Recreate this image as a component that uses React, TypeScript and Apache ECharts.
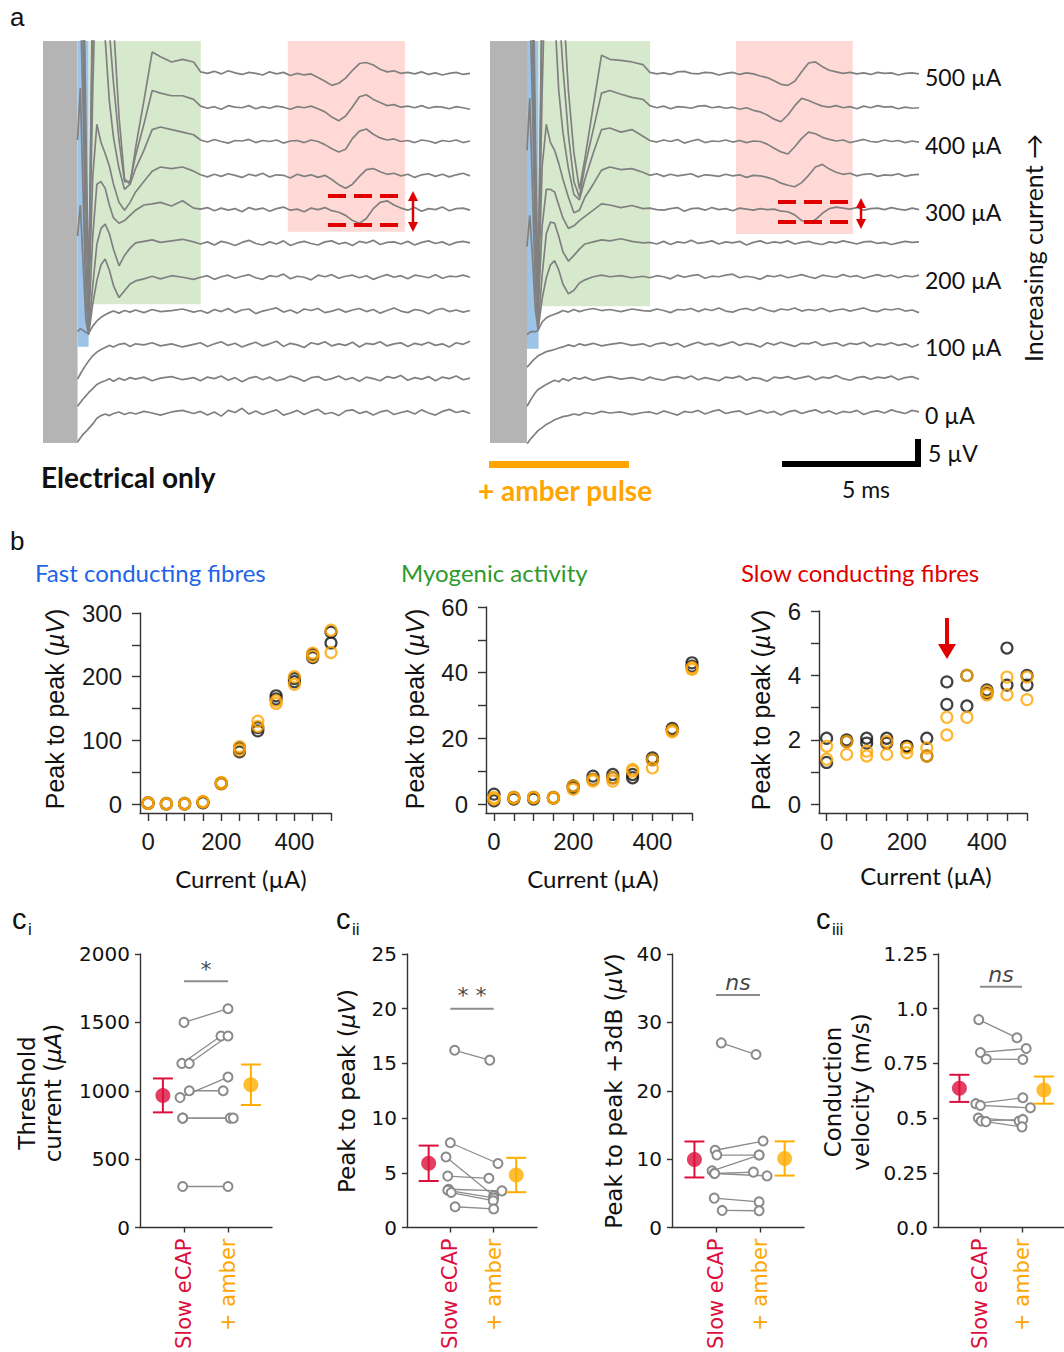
import React, { useEffect, useRef } from "react";
import * as echarts from "echarts";

// ---------------- Panel a : evoked traces (µV, relative to each trace's baseline) ----------------
const TIME_EARLY_MS = [0, 0.1, 0.2, 0.3, 0.4, 0.55, 0.7, 0.85, 1.0, 1.15, 1.3, 1.5, 1.7, 1.9, 2.1, 2.4, 2.7, 3.0, 3.4, 3.8, 4.2];
const TIME_LATE_MS = [4.45, 4.7, 4.95, 5.2, 5.45, 5.7, 5.95, 6.2, 6.45, 6.7,
  6.95, 7.2, 7.45, 7.7, 7.95, 8.2, 8.45, 8.7, 8.95, 9.2,
  9.45, 9.7, 9.95, 10.2, 10.45, 10.7, 10.95, 11.2, 11.45, 11.7,
  11.95, 12.2, 12.45, 12.7, 12.95, 13.2, 13.45, 13.7, 13.95, 14.2];

// Electrical only — early part (stimulus artefact, fast fibres, myogenic)
const L000_E = [-5.6, -4.8, -4.1, -3.6, -3.0, -2.1, -1.0, -0.5, -0.2, -0.5, -0.1, 0.2, -0.3, 0.1, -0.2, 0.3, 0.0, -0.4, 0.2, 0.5, -0.1];
const L050_E = [-5.2, -4.5, -3.8, -3.2, -2.6, -1.8, -1.0, -0.6, -0.3, 0.1, -0.4, 0.2, -0.2, 0.3, 0.0, 0.4, -0.3, 0.2, 0.5, -0.1, 0.3];
const L100_E = [-6.5, -5.5, -4.6, -3.8, -3.0, -2.0, -1.3, -0.8, -0.4, 0.0, -0.3, 0.2, 0.4, -0.2, 0.3, 0.1, 0.5, -0.1, 0.3, -0.3, 0.2];
const L150_E = [-3.8, -3.3, -3.6, -4.0, -4.2, -2.8, -1.8, -1.1, -0.6, -0.2, 0.1, -0.3, 0.2, -0.1, 0.3, -0.2, 0.4, 0.0, 0.2, 0.5, -0.1];
const L200_E = [8, 14, 3, -8, -11, -5, -0.5, 2.5, 3.6, 1.5, -1.5, -3.8, -2.5, -1.2, -0.6, -0.2, 0.3, -0.2, 0.4, 0.1, -0.3];
const L250_E = [20, 30, 10, -10, -17, -8, 0, 3, 3.8, 2.0, -1.0, -4.2, -2.2, -0.8, 0.2, 0.5, 0.8, 0.3, 0.6, 0.9, 0.4];
const L300_E = [40, 40, 20, -10, -22, -5, 5, 5.5, 4.2, 1.0, -1.5, -2.5, -2.0, -1.0, 0.0, 1.0, 1.2, 1.5, 0.8, 1.8, 0.4];
const L350_E = [40, 40, 30, 0, -25, 0, 10, 6.5, 4.4, 2.0, -1.5, -5.0, -6.5, -5.0, -3.0, -1.0, 1.0, 1.8, 1.5, 1.8, 1.0];
const L400_E = [40, 40, 20, -10, -30, 10, 40, 40, 20, 8, 1, -5, -9, -8, -5, -1.5, 2.5, 3.0, 2.5, 2.0, 1.5];
const L450_E = [40, 40, 25, -10, -35, 20, 40, 40, 30, 15, 5, -6, -14, -14, -9, -3, 3.5, 3.0, 2.5, 2.5, 1.8];
const L500_E = [45, 45, 30, -10, -45, 20, 45, 45, 40, 25, 10, -8, -20, -21, -14, -5, 4.4, 3.5, 2.5, 3.0, 2.5];
// Electrical only — late part (slow fibres)
const L000_L = [0.3, -0.4, 0.2, -0.6, 0.5, 0.1, 0.9, -0.2, 0.4, -0.3, 0.2, 0.6, -0.4, 0.0, 0.5, -0.3, 0.3, 0.7, -0.2, 0.1,
  -0.5, 0.4, 0.6, -0.1, 0.3, -0.4, 0.2, 0.5, -0.3, 0.1, 0.4, -0.2, 0.6, 0.0, -0.4, 0.3, 0.7, 0.1, 0.4, -0.1];
const L050_L = [-0.3, 0.4, 0.1, 0.6, -0.2, 0.3, -0.5, 0.2, 0.5, -0.1, 0.4, -0.3, 0.0, 0.6, 0.2, -0.4, 0.3, 0.5, -0.2, 0.1,
  0.6, -0.1, 0.3, -0.4, 0.4, 0.1, -0.3, 0.5, 0.2, 0.7, -0.2, 0.3, 0.0, 0.5, -0.3, 0.4, 0.1, 0.6, -0.1, 0.2];
const L100_L = [0.5, -0.2, 0.3, 0.7, 0.0, 0.4, -0.3, 0.2, 0.6, -0.1, 0.3, 0.8, -0.2, 0.4, 0.1, -0.4, 0.5, 0.2, 0.7, -0.1,
  0.3, 0.0, 0.6, -0.3, 0.4, 0.2, 0.7, -0.1, 0.3, 0.5, -0.2, 0.4, 0.1, 0.6, 0.0, 0.3, -0.3, 0.5, 0.2, 0.8];
const L150_L = [0.2, -0.3, 0.4, 0.0, 0.6, -0.2, 0.3, 0.5, -0.4, 0.1, 0.4, 0.7, -0.1, 0.3, -0.3, 0.5, 0.2, 0.6, -0.2, 0.1,
  0.5, -0.1, 0.3, 0.6, 0.0, 0.4, -0.3, 0.2, 0.7, 0.1, -0.2, 0.4, 0.2, -0.4, 0.3, 0.6, 0.0, 0.3, -0.1, 0.2];
const L200_L = [0.1, 0.4, -0.3, 0.2, 0.5, -0.1, 0.3, 0.6, 0.0, -0.3, 0.4, 0.2, 0.7, -0.2, 0.3, 0.1, -0.4, 0.5, 0.2, 0.6,
  -0.1, 0.3, 0.5, 0.0, 0.4, -0.3, 0.2, 0.6, 0.1, 0.4, -0.2, 0.5, 0.3, 0.0, 0.6, -0.1, 0.3, 0.2, 0.5, 0.1];
const L250_L = [0.0, 0.4, -0.2, 0.5, 0.2, -0.3, 0.3, 0.7, 0.1, -0.2, 0.4, 0.0, 0.6, -0.3, 0.2, 0.5, 0.1, -0.2, 0.4, 0.6,
  0.0, 0.3, -0.3, 0.5, 0.2, 0.7, -0.1, 0.3, 0.4, 0.0, 0.5, -0.2, 0.3, 0.6, 0.1, 0.4, -0.2, 0.3, 0.5, 0.2];
const L300_L = [0.2, 0.5, -0.1, 0.4, 0.0, 0.3, -0.3, 0.5, 0.1, 0.4, -0.2, 0.3, 0.6, 0.0, 0.2, -0.3, 0.4, 0.1, 0.5, -0.1,
  -0.4, -1.0, -2.0, -2.5, -1.6, 0.3, 1.5, 1.8, 1.0, 0.4, 0.0, 0.5, -0.2, 0.3, 0.1, 0.6, -0.1, 0.3, 0.4, 0.0];
const L350_L = [0.3, -0.1, 0.4, 0.0, 0.5, 0.2, -0.2, 0.4, 0.1, 0.6, -0.1, 0.3, 0.2, -0.3, 0.4, 0.0, 0.3, -0.2, 0.2, -0.6,
  -1.6, -2.3, -1.5, 0.0, 1.3, 1.5, 0.9, 0.4, 0.6, 0.1, 0.4, -0.2, 0.3, 0.5, 0.0, 0.4, -0.1, 0.3, 0.6, 0.1];
const L400_L = [0.5, 0.1, 0.6, 0.2, -0.1, 0.4, 0.3, 0.6, 0.0, 0.4, 0.2, 0.5, -0.1, 0.3, 0.4, 0.0, 0.5, 0.2, -0.4, -1.2,
  -1.8, -1.3, 0.8, 2.2, 2.6, 1.6, 0.9, 0.5, 0.7, 0.2, 0.4, 0.0, 0.5, 0.3, -0.1, 0.4, 0.2, 0.5, 0.0, 0.3];
const L450_L = [0.5, 0.1, 0.4, -0.1, 0.6, 0.3, 0.2, 0.6, 0.0, 0.4, 0.1, 0.5, 0.3, -0.1, 0.4, 0.2, 0.5, 0.0, -0.6, -1.6,
  -2.3, -1.4, 0.4, 2.3, 2.7, 1.8, 1.2, 0.6, 0.8, 0.3, 0.5, 0.2, 0.6, 0.1, 0.4, 0.3, 0.0, 0.4, 0.2, -0.1];
const L500_L = [0.6, 0.3, 0.7, 0.2, 0.8, 0.4, 0.1, 0.5, 0.3, 0.0, 0.6, 0.2, 0.5, -0.1, 0.3, 0.0, 0.2, -0.5, -1.2, -2.0,
  -1.6, -0.6, 0.9, 2.2, 2.4, 1.9, 1.1, 0.6, 0.8, 0.3, 0.5, 0.2, 0.6, 0.1, 0.4, 0.0, 0.3, 0.5, 0.1, 0.3];

// + amber pulse — early part
const R000_E = [-6.0, -5.2, -4.6, -4.0, -3.4, -2.8, -2.2, -1.8, -1.3, -1.0, -0.7, -0.5, -0.2, -0.4, 0.1, -0.2, 0.3, 0.0, 0.2, -0.3, 0.1];
const R050_E = [-5.2, -4.3, -3.4, -2.6, -2.0, -1.5, -1.0, -0.6, -0.2, -0.5, 0.1, -0.3, 0.3, 0.0, 0.4, -0.2, 0.2, 0.5, 0.0, 0.3, -0.2];
const R100_E = [-4.2, -3.6, -3.0, -2.5, -2.0, -1.6, -1.2, -1.0, -0.8, -0.5, -0.3, 0.1, -0.2, 0.3, 0.0, 0.4, -0.1, 0.2, 0.5, 0.0, 0.3];
const R150_E = [-4.4, -4.0, -3.8, -3.9, -3.6, -2.0, -1.2, -0.8, -0.5, -0.2, 0.2, -0.1, 0.4, 0.0, 0.3, 0.6, 0.2, 0.4, 0.0, 0.5, 0.2];
const R200_E = [6, 12, 4, -6, -10, -4, 0, 2.5, 3.3, 1.5, -1.2, -3.1, -2.4, -1.0, -0.4, 0.2, 0.5, 0.2, 0.4, 0.0, 0.3];
const R250_E = [18, 28, 10, -8, -16, -6, 2, 4.2, 4.0, 1.5, -1.5, -3.3, -2.2, -1.0, 0.0, 0.4, 0.8, 0.6, 1.0, 0.5, 0.2];
const R300_E = [40, 40, 20, -8, -20, -3, 4, 4.0, 3.5, 1.0, -1.5, -3.5, -3.0, -2.0, -1.2, 0.0, 1.2, 1.0, 0.5, 0.9, 0.3];
const R350_E = [40, 40, 30, 0, -24, 2, 10, 6.5, 5, 2.5, -0.5, -4, -7, -6.5, -4, -1.5, 1.2, 1.8, 1.3, 1.5, 0.8];
const R400_E = [40, 40, 20, -10, -30, 10, 40, 40, 25, 10, 2, -5, -10, -11, -7, -2, 2.5, 2.8, 2.0, 2.5, 1.2];
const R450_E = [40, 40, 25, -10, -35, 20, 40, 40, 35, 20, 8, -5, -14, -17, -11, -4, 3.0, 3.5, 2.8, 2.2, 1.8];
const R500_E = [45, 45, 30, -10, -45, 20, 45, 45, 45, 30, 15, -3, -15, -22, -16, -6, 3.8, 3.0, 2.8, 2.5, 2.0];
// + amber pulse — late part
const R000_L = [0.2, -0.2, 0.4, 0.0, -0.4, 0.3, 0.1, 0.5, -0.2, 0.3, 0.6, -0.1, 0.2, 0.4, -0.3, 0.1, 0.5, 0.0, 0.3, -0.4,
  0.2, 0.5, -0.1, 0.3, 0.6, 0.0, 0.4, -0.2, 0.3, 0.1, 0.5, -0.3, 0.2, 0.4, 0.0, 0.6, 0.2, -0.1, 0.5, 0.2];
const R050_L = [0.4, 0.0, -0.2, 0.3, 0.5, 0.1, 0.6, -0.1, 0.3, 0.0, -0.3, 0.4, 0.2, 0.6, -0.2, 0.3, 0.1, -0.4, 0.4, 0.2,
  0.5, 0.0, 0.3, 0.6, -0.1, 0.4, 0.2, 0.7, 0.1, -0.2, 0.3, 0.5, 0.0, 0.4, 0.2, 0.6, -0.1, 0.3, 0.5, 0.0];
const R100_L = [-0.2, 0.3, 0.5, 0.0, 0.4, -0.3, 0.2, 0.6, 0.1, 0.4, -0.1, 0.3, 0.7, 0.0, 0.4, 0.2, -0.3, 0.5, 0.1, 0.6,
  0.2, -0.2, 0.4, 0.3, 0.7, 0.0, 0.3, 0.5, -0.1, 0.4, 0.2, 0.6, -0.2, 0.3, 0.1, 0.5, 0.0, 0.3, -0.3, 0.2];
const R150_L = [0.1, 0.5, 0.2, -0.2, 0.4, 0.3, 0.6, 0.0, 0.5, 0.2, 0.7, 0.1, -0.1, 0.4, 0.6, 0.2, 0.8, 0.3, 0.0, 0.5,
  0.3, 0.7, 0.1, 0.4, 0.2, 0.6, 0.0, 0.3, 0.5, 0.1, 0.4, 0.7, 0.2, 0.0, 0.5, 0.3, 0.6, 0.1, 0.3, -0.2];
const R200_L = [0.0, 0.4, 0.2, -0.2, 0.5, 0.1, 0.4, 0.6, -0.1, 0.3, 0.2, 0.5, 0.7, 0.0, 0.3, 0.1, -0.3, 0.4, 0.2, 0.5,
  0.0, 0.3, 0.6, 0.2, -0.1, 0.5, 0.3, 0.1, 0.6, 0.2, 0.4, -0.1, 0.3, 0.6, 0.2, 0.5, 0.0, 0.4, 0.2, 0.5];
const R250_L = [0.3, 0.0, 0.5, -0.1, 0.4, 0.2, 0.7, 0.1, 0.3, 0.6, 0.0, 0.4, 0.2, 0.5, -0.2, 0.3, 0.6, 0.1, 0.4, 0.2,
  0.6, 0.0, 0.3, 0.5, 0.1, -0.1, 0.4, 0.2, 0.6, 0.3, 0.0, 0.4, 0.5, 0.1, 0.3, -0.1, 0.2, 0.5, 0.3, 0.4];
const R300_L = [0.4, 0.1, 0.0, 0.3, 0.5, -0.2, 0.3, 0.4, 0.0, 0.5, 0.1, 0.3, -0.1, 0.4, 0.2, 0.0, 0.3, 0.1, 0.2, -0.2,
  -0.3, -0.9, -2.0, -2.5, -1.8, -0.6, 0.3, 0.6, 0.4, 0.2, 0.5, 0.0, 0.3, 0.4, 0.1, 0.5, 0.2, 0.0, 0.4, 0.1];
const R350_L = [0.2, 0.5, 0.0, 0.4, 0.1, 0.3, 0.5, -0.1, 0.3, 0.2, 0.0, 0.4, 0.1, 0.3, -0.2, 0.2, 0.1, -0.2, -0.6, -1.3,
  -1.7, -2.0, -1.2, 0.2, 1.8, 2.3, 1.4, 0.8, 0.4, 0.6, 0.1, 0.4, 0.5, 0.0, 0.3, 0.2, 0.5, 0.0, 0.3, 0.4];
const R400_L = [0.4, 0.1, 0.5, 0.2, 0.6, -0.1, 0.3, 0.6, 0.0, 0.3, 0.2, 0.5, 0.1, 0.4, 0.0, 0.3, 0.2, -0.3, -1.1, -1.8,
  -2.2, -0.8, 0.8, 2.0, 1.7, 1.0, 0.6, 0.3, 0.5, 0.0, 0.3, 0.6, 0.2, 0.1, 0.5, 0.2, 0.4, 0.0, 0.3, 0.1];
const R450_L = [0.6, 0.2, 0.5, 0.0, 0.4, 0.3, 0.1, 0.5, 0.6, 0.2, 0.4, 0.1, 0.3, -0.1, 0.2, -0.3, -0.6, -1.2, -2.0, -2.5,
  -1.2, 0.6, 2.0, 1.6, 1.0, 0.5, 0.3, 0.6, 0.2, 0.4, 0.0, 0.5, 0.2, 0.6, 0.3, 0.4, 0.0, 0.3, 0.1, 0.2];
const R500_L = [0.5, 0.2, 0.4, 0.1, 0.6, 0.7, 0.3, 0.2, 0.5, 0.4, 0.0, 0.3, 0.5, 0.1, 0.4, 0.2, -0.2, -0.5, -1.1, -1.8,
  -2.0, -1.2, 0.6, 2.3, 2.5, 1.6, 0.9, 0.6, 0.3, 0.5, 0.2, 0.4, 0.1, 0.5, 0.3, 0.4, 0.0, 0.3, 0.4, 0.2];

const LEFT_TRACES = [
  [L000_E, L000_L], [L050_E, L050_L], [L100_E, L100_L], [L150_E, L150_L], [L200_E, L200_L], [L250_E, L250_L],
  [L300_E, L300_L], [L350_E, L350_L], [L400_E, L400_L], [L450_E, L450_L], [L500_E, L500_L],
];
const RIGHT_TRACES = [
  [R000_E, R000_L], [R050_E, R050_L], [R100_E, R100_L], [R150_E, R150_L], [R200_E, R200_L], [R250_E, R250_L],
  [R300_E, R300_L], [R350_E, R350_L], [R400_E, R400_L], [R450_E, R450_L], [R500_E, R500_L],
];
const LEVEL_LABELS = ["0 µA", "100 µA", "200 µA", "300 µA", "400 µA", "500 µA"];
const LEVEL_LABEL_INDEX = [0, 2, 4, 6, 8, 10];

// ---------------- Panel b : peak to peak vs current ----------------
const CURRENTS = [0, 50, 100, 150, 200, 250, 300, 350, 400, 450, 500];
const FAST_ELEC_1 = [2, 0, 1, 3, 33, 82, 115, 165, 192, 230, 253];
const FAST_ELEC_2 = [1, 1, 0, 2, 32, 88, 120, 170, 197, 235, 270];
const FAST_AMBER_1 = [2, 1, 1, 4, 34, 85, 122, 158, 188, 232, 238];
const FAST_AMBER_2 = [1, 0, 0, 3, 32, 90, 130, 162, 200, 237, 273];

const MYO_ELEC_1 = [1, 2, 2, 2, 5, 7.5, 8, 8, 13.5, 22.5, 43];
const MYO_ELEC_2 = [3, 1.5, 1.5, 1.8, 5.5, 8.5, 9, 9, 14, 23, 42];
const MYO_AMBER_1 = [2, 2, 2, 1.8, 4.5, 7, 7, 10, 11, 22, 41];
const MYO_AMBER_2 = [1.5, 1.8, 1.9, 2, 5.5, 7.5, 8, 10.5, 13.5, 22.5, 41.5];

const SLOW_ELEC_1 = [2.05, 2.0, 2.05, 2.05, 1.8, 2.05, 3.8, 4.0, 3.55, 4.85, 4.0];
const SLOW_ELEC_2 = [1.3, 1.95, 1.9, 1.9, 1.8, 1.5, 3.1, 3.05, 3.45, 3.7, 3.7];
const SLOW_AMBER_1 = [1.8, 1.95, 1.65, 1.95, 1.75, 1.75, 2.7, 4.0, 3.5, 3.95, 3.95];
const SLOW_AMBER_2 = [1.4, 1.55, 1.5, 1.55, 1.6, 1.5, 2.15, 2.7, 3.4, 3.4, 3.25];

// ---------------- Panel c : paired data ----------------
const CI_SLOW = [1500, 1200, 1200, 950, 1000, 800, 800, 300];
const CI_AMBER = [1600, 1400, 1400, 1100, 1000, 800, 800, 300];
const CI_X_SLOW = [1.0, 0.95, 1.12, 0.91, 1.12, 0.97, 0.97, 0.97];
const CI_X_AMBER = [2.0, 1.84, 2.0, 2.0, 1.89, 2.05, 2.12, 2.0];
const CI_MEAN_ERR = [[0.52, 966, 124], [2.52, 1044, 148]];

const CII_SLOW = [16.2, 7.75, 6.45, 4.7, 3.5, 3.4, 3.2, 1.9];
const CII_AMBER = [15.3, 5.85, 2.9, 4.5, 3.35, 2.7, 2.45, 1.7];
const CII_X_SLOW = [1.1, 1.0, 0.9, 0.94, 0.96, 0.94, 1.02, 1.11];
const CII_X_AMBER = [1.91, 2.1, 2.0, 1.89, 2.19, 2.0, 1.99, 2.0];
const CII_MEAN_ERR = [[0.5, 5.87, 1.62], [2.52, 4.8, 1.57]];

const CIIB_SLOW = [27.0, 11.3, 10.6, 8.3, 7.9, 7.9, 4.3, 2.5];
const CIIB_AMBER = [25.3, 12.65, 10.6, 10.6, 8.1, 7.55, 3.75, 2.45];
const CIIB_X_SLOW = [1.12, 0.98, 1.02, 0.91, 0.96, 0.97, 0.96, 1.14];
const CIIB_X_AMBER = [1.91, 2.07, 1.98, 1.98, 1.85, 2.16, 1.98, 1.98];
const CIIB_MEAN_ERR = [[0.51, 9.95, 2.63], [2.56, 10.1, 2.5]];

const CIII_SLOW = [0.95, 0.8, 0.77, 0.566, 0.558, 0.5, 0.487, 0.484];
const CIII_AMBER = [0.867, 0.818, 0.768, 0.593, 0.547, 0.487, 0.494, 0.46];
const CIII_X_SLOW = [0.97, 1.01, 1.15, 0.9, 1.01, 0.96, 1.03, 1.14];
const CIII_X_AMBER = [1.88, 2.1, 2.02, 2.02, 2.2, 1.93, 2.02, 2.0];
const CIII_MEAN_ERR = [[0.51, 0.636, 0.062], [2.52, 0.628, 0.062]];

// ---------------- styling ----------------
const FONT_CAL = "Lato, 'Open Sans', sans-serif";
const FONT_ARIAL = "'Liberation Sans', Arial, sans-serif";
const FONT_DV = "'DejaVu Sans', sans-serif";
const TRACE_GRAY = "#808080";
const CRIMSON = "#dc0f3c";
const AMBER = "#ffa500";
const AMBER_DOT = "#ffad00";
const PAIR_GRAY = "#8c8c8c";
const TRACE_BASE = 5.77;
const TRACE_STEP = 6.5;
const TRACE_YMAX = 77.3;
const TIME_MS = [...TIME_EARLY_MS, ...TIME_LATE_MS];

function traceSeries(panel: number, traces: number[][][]) {
  return traces.map((parts, i) => {
    const vals = [...parts[0], ...parts[1]];
    return {
      type: "line",
      xAxisIndex: panel,
      yAxisIndex: panel,
      data: TIME_MS.map((t, k) => [t, vals[k] + TRACE_BASE + TRACE_STEP * i]),
      symbol: "none",
      lineStyle: { color: TRACE_GRAY, width: 1.7 },
      clip: true,
      silent: true,
      z: 3,
    };
  });
}

function areaSeries(panel: number, areas: any[]) {
  return {
    type: "line",
    xAxisIndex: panel,
    yAxisIndex: panel,
    data: [],
    z: 1,
    silent: true,
    markArea: {
      silent: true,
      itemStyle: { opacity: 1 },
      data: areas.map((a) => [
        { xAxis: a[0], yAxis: a[2], itemStyle: { color: a[4], opacity: 1 } },
        { xAxis: a[1], yAxis: a[3] },
      ]),
    },
  };
}

function ringSeries(panel: number, ys: number[], color: string) {
  return {
    type: "scatter",
    xAxisIndex: panel,
    yAxisIndex: panel,
    data: CURRENTS.map((c, i) => [c, ys[i]]),
    symbol: "circle",
    symbolSize: 11,
    itemStyle: { color: "rgba(255,255,255,0)", borderColor: color, borderWidth: 2.2 },
    silent: true,
    z: color === AMBER ? 5 : 4,
  };
}

function pairSeries(panel: number, xs1: number[], ys1: number[], xs2: number[], ys2: number[]) {
  return ys1.map((v, i) => ({
    type: "line",
    xAxisIndex: panel,
    yAxisIndex: panel,
    data: [[xs1[i], v], [xs2[i], ys2[i]]],
    symbol: "emptyCircle",
    symbolSize: 9,
    showSymbol: true,
    lineStyle: { color: PAIR_GRAY, width: 1.3 },
    itemStyle: { color: "#8a8a8a", borderWidth: 1.5 },
    silent: true,
    z: 4,
  }));
}

function meanSeries(panel: number, me: number[][]) {
  const colors = [CRIMSON, AMBER_DOT];
  const out: any[] = [];
  me.forEach((d, i) => {
    out.push({
      type: "custom",
      xAxisIndex: panel,
      yAxisIndex: panel,
      data: [d],
      silent: true,
      z: 5,
      renderItem: (_p: any, api: any) => {
        const x = api.value(0), m = api.value(1), e = api.value(2);
        const top = api.coord([x, m + e]);
        const bot = api.coord([x, m - e]);
        const st = { stroke: colors[i], lineWidth: 2 };
        return {
          type: "group",
          children: [
            { type: "line", shape: { x1: top[0], y1: top[1], x2: bot[0], y2: bot[1] }, style: st },
            { type: "line", shape: { x1: top[0] - 10, y1: top[1], x2: top[0] + 10, y2: top[1] }, style: st },
            { type: "line", shape: { x1: bot[0] - 10, y1: bot[1], x2: bot[0] + 10, y2: bot[1] }, style: st },
          ],
        };
      },
    });
    out.push({
      type: "scatter",
      xAxisIndex: panel,
      yAxisIndex: panel,
      data: [[d[0], d[1]]],
      symbol: "circle",
      symbolSize: 15,
      itemStyle: { color: colors[i] },
      silent: true,
      z: 6,
    });
  });
  return out;
}

function sigSeries(panel: number, y: number, text: string, italic: boolean, dist: number) {
  return [
    {
      type: "line",
      xAxisIndex: panel,
      yAxisIndex: panel,
      data: [[1, y], [2, y]],
      symbol: "none",
      lineStyle: { color: PAIR_GRAY, width: 2 },
      silent: true,
      z: 4,
    },
    {
      type: "scatter",
      xAxisIndex: panel,
      yAxisIndex: panel,
      data: [[1.5, y]],
      symbol: "circle",
      symbolSize: 1,
      itemStyle: { color: "rgba(0,0,0,0)" },
      label: {
        show: true,
        position: "top",
        distance: dist,
        formatter: text,
        fontFamily: FONT_DV,
        fontSize: 22,
        fontStyle: italic ? "italic" : "normal",
        color: "#111",
      },
      silent: true,
      z: 4,
    },
  ];
}

const AX_LINE = { show: true, onZero: false, lineStyle: { color: "#333", width: 1.4 } };

function bAxes(gi: number, xMin: number, yMin: number, yMax: number, yTicks: number[], yLabels: number[]) {
  const tick = (vals: number[]) => ({ show: true, length: 8, customValues: vals, lineStyle: { color: "#333", width: 1.4 } });
  const lab = (vals: number[], margin: number) => ({
    show: true, customValues: vals, fontFamily: FONT_ARIAL, fontSize: 24, color: "#1a1a1a", margin,
  });
  return {
    x: { gridIndex: gi, type: "value", min: xMin, max: 500, axisLine: AX_LINE, axisTick: tick(CURRENTS), axisLabel: lab([0, 200, 400], 16), splitLine: { show: false } },
    y: { gridIndex: gi, type: "value", min: yMin, max: yMax, axisLine: AX_LINE, axisTick: tick(yTicks), axisLabel: lab(yLabels, 18), splitLine: { show: false } },
  };
}

function cAxes(gi: number, yMax: number, interval: number, fmt: (v: number) => string) {
  return {
    x: {
      gridIndex: gi, type: "value", min: 0, max: 3,
      axisLine: AX_LINE,
      axisTick: { show: true, length: 5, customValues: [1, 2], lineStyle: { color: "#333", width: 1.4 } },
      axisLabel: {
        show: true, customValues: [1, 2], rotate: 90, margin: 11,
        formatter: (v: number) => (v === 1 ? "{r|Slow eCAP}" : "{o|+ amber}"),
        rich: {
          r: { color: CRIMSON, fontSize: 21, fontFamily: FONT_DV },
          o: { color: AMBER, fontSize: 21, fontFamily: FONT_DV },
        },
      },
      splitLine: { show: false },
    },
    y: {
      gridIndex: gi, type: "value", min: 0, max: yMax, interval,
      axisLine: AX_LINE,
      axisTick: { show: true, length: 5, lineStyle: { color: "#333", width: 1.4 } },
      axisLabel: { show: true, fontFamily: FONT_DV, fontSize: 20, color: "#111", margin: 10, formatter: fmt },
      splitLine: { show: false },
    },
  };
}

function txt(x: number, y: number, text: string, o: any = {}) {
  const { rotation, ...style } = o;
  return {
    type: "text", x, y, rotation: rotation || 0, z: 100, silent: true,
    style: { text, fill: "#111", fontSize: 22, fontFamily: FONT_CAL, align: "left", verticalAlign: "middle", ...style },
  };
}

function buildOption() {
  const plain = (v: number) => String(v);
  const b1 = bAxes(2, -22, -14, 300, [0, 50, 100, 150, 200, 250, 300], [0, 100, 200, 300]);
  const b2 = bAxes(3, -20.2, -2.74, 60, [0, 10, 20, 30, 40, 50, 60], [0, 20, 40, 60]);
  const b3 = bAxes(4, -19, -0.27, 6, [0, 1, 2, 3, 4, 5, 6], [0, 2, 4, 6]);
  const c1 = cAxes(5, 2000, 500, plain);
  const c2 = cAxes(6, 25, 5, plain);
  const c3 = cAxes(7, 40, 10, plain);
  const c4 = cAxes(8, 1.25, 0.25, (v: number) => (v === 0 ? "0.0" : v === 1 ? "1.0" : String(v)));

  const traceAxesX = [
    { gridIndex: 0, type: "value", min: -1.25, max: 14.2, show: false },
    { gridIndex: 1, type: "value", min: -1.34, max: 14.2, show: false },
  ];
  const traceAxesY = [
    { gridIndex: 0, type: "value", min: 0, max: TRACE_YMAX, show: false },
    { gridIndex: 1, type: "value", min: 0, max: TRACE_YMAX, show: false },
  ];

  const series: any[] = [
    areaSeries(0, [
      [-1.25, 0, 0, TRACE_YMAX, "#b4b4b4"],
      [0, 0.4, 18.5, TRACE_YMAX, "#9dc3e6"],
      [0.4, 4.46, 26.7, TRACE_YMAX, "#d6e9cc"],
      [7.61, 11.85, 40.6, TRACE_YMAX, "#ffd9d6"],
    ]),
    areaSeries(1, [
      [-1.34, 0, 0, TRACE_YMAX, "#b4b4b4"],
      [0, 0.42, 18.1, TRACE_YMAX, "#9dc3e6"],
      [0.42, 4.46, 26.3, TRACE_YMAX, "#d6e9cc"],
      [7.57, 11.8, 40.2, TRACE_YMAX, "#ffd9d6"],
    ]),
    ...traceSeries(0, LEFT_TRACES),
    ...traceSeries(1, RIGHT_TRACES),
    ringSeries(2, FAST_ELEC_1, "#111"), ringSeries(2, FAST_ELEC_2, "#111"),
    ringSeries(2, FAST_AMBER_1, AMBER), ringSeries(2, FAST_AMBER_2, AMBER),
    ringSeries(3, MYO_ELEC_1, "#111"), ringSeries(3, MYO_ELEC_2, "#111"),
    ringSeries(3, MYO_AMBER_1, AMBER), ringSeries(3, MYO_AMBER_2, AMBER),
    ringSeries(4, SLOW_ELEC_1, "#111"), ringSeries(4, SLOW_ELEC_2, "#111"),
    ringSeries(4, SLOW_AMBER_1, AMBER), ringSeries(4, SLOW_AMBER_2, AMBER),
    ...pairSeries(5, CI_X_SLOW, CI_SLOW, CI_X_AMBER, CI_AMBER),
    ...meanSeries(5, CI_MEAN_ERR),
    ...sigSeries(5, 1800, "*", false, 0),
    ...pairSeries(6, CII_X_SLOW, CII_SLOW, CII_X_AMBER, CII_AMBER),
    ...meanSeries(6, CII_MEAN_ERR),
    ...sigSeries(6, 20, "* *", false, 2),
    ...pairSeries(7, CIIB_X_SLOW, CIIB_SLOW, CIIB_X_AMBER, CIIB_AMBER),
    ...meanSeries(7, CIIB_MEAN_ERR),
    ...sigSeries(7, 34, "ns", true, 1),
    ...pairSeries(8, CIII_X_SLOW, CIII_SLOW, CIII_X_AMBER, CIII_AMBER),
    ...meanSeries(8, CIII_MEAN_ERR),
    ...sigSeries(8, 1.1, "ns", true, 1),
  ];

  const pxPerUv = 402 / TRACE_YMAX;
  const levelLabels = LEVEL_LABEL_INDEX.map((li, k) =>
    txt(925, 443 - (TRACE_BASE + TRACE_STEP * li) * pxPerUv + 2, LEVEL_LABELS[k], { fontSize: 23 })
  );

  const red = "#e00000";
  const dash = (x1: number, x2: number, y: number) => ({
    type: "line", z: 100, silent: true, shape: { x1, y1: y, x2, y2: y },
    style: { stroke: red, lineWidth: 4, lineDash: [18, 8] },
  });
  const dblArrow = (x: number, y1: number, y2: number) => [
    { type: "line", z: 100, silent: true, shape: { x1: x, y1: y1 + 6, x2: x, y2: y2 - 6 }, style: { stroke: red, lineWidth: 2.5 } },
    { type: "polygon", z: 100, silent: true, shape: { points: [[x, y1 - 1], [x - 5, y1 + 9], [x + 5, y1 + 9]] }, style: { fill: red } },
    { type: "polygon", z: 100, silent: true, shape: { points: [[x, y2 + 1], [x - 5, y2 - 9], [x + 5, y2 - 9]] }, style: { fill: red } },
  ];
  const uvRich = { i: { fontStyle: "italic", fontFamily: FONT_ARIAL, fontSize: 25, fill: "#111" } };
  const dvRich = { i: { fontStyle: "italic", fontFamily: FONT_DV, fontSize: 23, fill: "#111", lineHeight: 26 } };

  const graphics: any[] = [
    txt(10, 17, "a", { fontFamily: FONT_ARIAL, fontSize: 26 }),
    txt(10, 541, "b", { fontFamily: FONT_ARIAL, fontSize: 26 }),
    txt(12, 919, "c", { fontFamily: FONT_ARIAL, fontSize: 29 }),
    txt(28, 929, "i", { fontFamily: FONT_ARIAL, fontSize: 17 }),
    txt(336, 919, "c", { fontFamily: FONT_ARIAL, fontSize: 29 }),
    txt(352, 929, "ii", { fontFamily: FONT_ARIAL, fontSize: 17 }),
    txt(816, 919, "c", { fontFamily: FONT_ARIAL, fontSize: 29 }),
    txt(832, 929, "iii", { fontFamily: FONT_ARIAL, fontSize: 17 }),
    ...levelLabels,
    txt(1033, 248, "Increasing current →", { rotation: Math.PI / 2, align: "center", fontSize: 25 }),
    txt(41, 477, "Electrical only", { fontWeight: "bold", fontSize: 28 }),
    txt(478, 490, "+ amber pulse", { fontWeight: "bold", fontSize: 28, fill: AMBER }),
    { type: "rect", z: 100, silent: true, shape: { x: 489, y: 461, width: 140, height: 7 }, style: { fill: AMBER } },
    { type: "rect", z: 100, silent: true, shape: { x: 782, y: 461, width: 139, height: 6 }, style: { fill: "#000" } },
    { type: "rect", z: 100, silent: true, shape: { x: 915, y: 439, width: 6, height: 28 }, style: { fill: "#000" } },
    txt(928, 453, "5 µV", { fontSize: 23 }),
    txt(866, 489, "5 ms", { fontSize: 23, align: "center" }),
    dash(328, 398, 196), dash(328, 398, 225), ...dblArrow(413, 192, 231),
    dash(778, 848, 202), dash(778, 848, 222), ...dblArrow(861, 199, 228),
    // panel b titles and axis names
    txt(35, 572, "Fast conducting fibres", { fontSize: 24, fill: "#1e63e9" }),
    txt(401, 572, "Myogenic activity", { fontSize: 24, fill: "#2e9a2e" }),
    txt(741, 572, "Slow conducting fibres", { fontSize: 24, fill: "#e00000" }),
    txt(241, 878, "Current (µA)", { fontSize: 24, align: "center" }),
    txt(593, 878, "Current (µA)", { fontSize: 24, align: "center" }),
    txt(926, 875, "Current (µA)", { fontSize: 24, align: "center" }),
    txt(55, 709, "Peak to peak ({i|µV})", { rotation: Math.PI / 2, align: "center", fontFamily: FONT_ARIAL, fontSize: 25, rich: uvRich }),
    txt(415, 709, "Peak to peak ({i|µV})", { rotation: Math.PI / 2, align: "center", fontFamily: FONT_ARIAL, fontSize: 25, rich: uvRich }),
    txt(761, 710, "Peak to peak ({i|µV})", { rotation: Math.PI / 2, align: "center", fontFamily: FONT_ARIAL, fontSize: 25, rich: uvRich }),
    { type: "rect", z: 100, silent: true, shape: { x: 945, y: 618, width: 4, height: 28 }, style: { fill: red } },
    { type: "polygon", z: 100, silent: true, shape: { points: [[938, 644], [956, 644], [947, 659]] }, style: { fill: red } },
    // panel c axis names
    txt(40, 1093, "Threshold\ncurrent ({i|µA})", { rotation: Math.PI / 2, align: "center", fontFamily: FONT_DV, fontSize: 23, lineHeight: 26, rich: dvRich }),
    txt(347, 1091, "Peak to peak ({i|µV})", { rotation: Math.PI / 2, align: "center", fontFamily: FONT_DV, fontSize: 23, rich: dvRich }),
    txt(614, 1091, "Peak to peak +3dB ({i|µV})", { rotation: Math.PI / 2, align: "center", fontFamily: FONT_DV, fontSize: 23, rich: dvRich }),
    txt(847, 1092, "Conduction\nvelocity (m/s)", { rotation: Math.PI / 2, align: "center", fontFamily: FONT_DV, fontSize: 23, lineHeight: 28 }),
  ];

  return {
    animation: false,
    backgroundColor: "#ffffff",
    grid: [
      { left: 43, top: 41, width: 427, height: 402 },
      { left: 490, top: 41, width: 429, height: 402 },
      { left: 140, top: 613, width: 191, height: 200 },
      { left: 486, top: 607, width: 206, height: 206 },
      { left: 819, top: 611, width: 208, height: 202 },
      { left: 140, top: 954, width: 132, height: 274 },
      { left: 407, top: 954, width: 130, height: 274 },
      { left: 672, top: 954, width: 132, height: 274 },
      { left: 938, top: 954, width: 130, height: 274 },
    ],
    xAxis: [...traceAxesX, b1.x, b2.x, b3.x, c1.x, c2.x, c3.x, c4.x],
    yAxis: [...traceAxesY, b1.y, b2.y, b3.y, c1.y, c2.y, c3.y, c4.y],
    series,
    graphic: { elements: graphics },
  };
}

export default function App() {
  const ref = useRef<HTMLDivElement>(null);
  useEffect(() => {
    const chart = echarts.init(ref.current as HTMLDivElement, null, { renderer: "svg" });
    chart.setOption(buildOption() as any);
    return () => chart.dispose();
  }, []);
  return (
    <div
      ref={ref}
      style={{ position: "absolute", left: 0, top: 0, width: 1064, height: 1352, background: "#fff" }}
    />
  );
}
